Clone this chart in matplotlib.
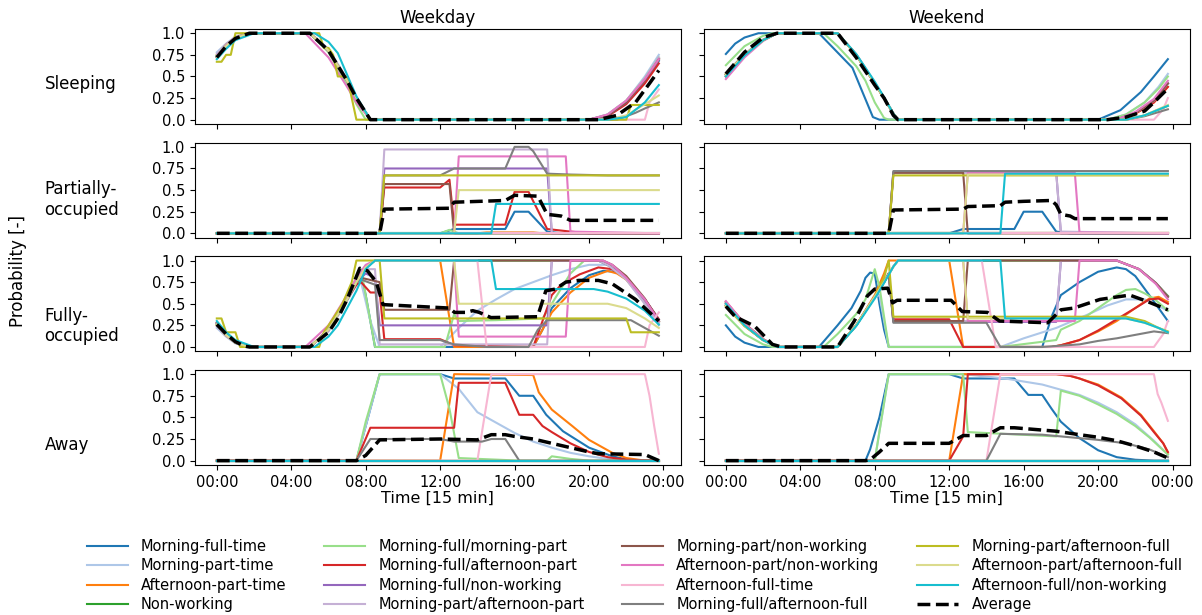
"""Occupancy state probabilities per household type, weekday vs weekend."""

import matplotlib.pyplot as plt
import numpy as np

# household types (legend order) and their colours
labels = [
    "Morning-full-time", "Morning-part-time", "Afternoon-part-time", "Non-working",
    "Morning-full/morning-part", "Morning-full/afternoon-part",
    "Morning-full/non-working", "Morning-part/afternoon-part",
    "Morning-part/non-working", "Afternoon-part/non-working",
    "Afternoon-full-time", "Morning-full/afternoon-full",
    "Morning-part/afternoon-full", "Afternoon-part/afternoon-full",
    "Afternoon-full/non-working",
]
keys = ["mft", "mpt", "apt", "nw", "mf_mp", "mf_ap", "mf_nw", "mp_ap",
        "mp_nw", "ap_nw", "aft", "mf_af", "mp_af", "ap_af", "af_nw"]
colors = ["#1f77b4", "#aec7e8", "#ff7f0e", "#2ca02c", "#98df8a", "#d62728",
          "#9467bd", "#c5b0d5", "#8c564b", "#e377c2", "#f7b6d2", "#7f7f7f",
          "#bcbd22", "#dbdb8d", "#17becf"]

states = ["Sleeping", "Partially-\noccupied", "Fully-\noccupied", "Away"]
days = ["Weekday", "Weekend"]
time_ticks = [0, 16, 32, 48, 64, 80, 96]
time_labels = ["00:00", "04:00", "08:00", "12:00", "16:00", "20:00", "00:00"]
prob_ticks = [0, 0.25, 0.5, 0.75, 1.0]
prob_labels = ["0.0", "0.25", "0.5", "0.75", "1.0"]

# curves as (hour, probability) knots
ZERO = [(0, 0), (23.75, 0)]

wd_sleep = {
    "mft": [(0, .73), (.5, .86), (1, .95), (1.75, 1), (5, 1), (6, .8), (7, .45), (7.5, .25), (8.25, 0), (20, 0), (21, .05), (22, .2), (23, .45), (23.75, .68)],
    "mpt": [(0, .78), (.5, .88), (1, .96), (1.75, 1), (5, 1), (6, .82), (7, .47), (7.5, .26), (8.25, 0), (20, 0), (21, .06), (22, .22), (23, .5), (23.75, .75)],
    "apt": [(0, .75), (.5, .87), (1, .95), (1.75, 1), (5, 1), (6, .8), (7, .45), (7.5, .24), (8.25, 0), (20, 0), (21, .05), (22, .21), (23, .47), (23.75, .7)],
    "nw": [(0, .74), (.5, .86), (1, .95), (1.75, 1), (5, 1), (6, .79), (7, .44), (7.5, .24), (8.25, 0), (20, 0), (21, .05), (22, .2), (23, .46), (23.75, .7)],
    "mf_mp": [(0, .74), (.5, .86), (1, .95), (1.75, 1), (5, 1), (6, .78), (7, .4), (7.5, .18), (8, 0), (20, 0), (21, .06), (22, .22), (23, .48), (23.75, .72)],
    "mf_ap": [(0, .72), (.5, .85), (1, .94), (1.75, 1), (5, 1), (6, .8), (7, .45), (7.5, .25), (8.25, 0), (20, 0), (21, .04), (22, .18), (23, .42), (23.75, .65)],
    "mf_nw": [(0, .73), (.5, .86), (1, .95), (1.75, 1), (5, 1), (6, .8), (7, .45), (7.5, .25), (8.25, 0), (20, 0), (21, .05), (22, .2), (23, .46), (23.75, .7)],
    "mp_ap": [(0, .76), (.5, .87), (1, .96), (1.75, 1), (5, 1), (6, .81), (7, .46), (7.5, .25), (8.25, 0), (20, 0), (21, .06), (22, .22), (23, .48), (23.75, .72)],
    "mp_nw": [(0, .73), (.5, .86), (1, .95), (1.75, 1), (5, 1), (6, .8), (7, .45), (7.5, .25), (8.25, 0), (20, 0), (21, .05), (22, .2), (23, .46), (23.75, .7)],
    "ap_nw": [(0, .72), (.5, .85), (1, .94), (1.75, 1), (4.75, 1), (6, .72), (7, .38), (7.5, .2), (8.25, 0), (20, 0), (21, .06), (22, .22), (23, .47), (23.75, .7)],
    "aft": [(0, .73), (.5, .86), (1, .95), (1.75, 1), (5, 1), (6, .8), (7, .45), (7.5, .25), (8.25, 0), (23, 0), (23.25, .2), (23.75, .35)],
    "mf_af": [(0, .72), (.5, .85), (1, .94), (1.75, 1), (5, 1), (6, .8), (7, .45), (7.5, .25), (8.25, 0), (21.5, 0), (22.5, .08), (23, .13), (23.75, .2)],
    "mp_af": [(0, .67), (.25, .67), (.5, .75), (.75, .75), (1, 1), (5.5, 1), (5.75, .83), (6, .83), (6.25, .75), (6.5, .5), (7, .5), (7.25, .25), (7.5, 0), (22, 0), (22.25, .17), (23.75, .17)],
    "ap_af": [(0, .72), (.5, .85), (1, .94), (1.75, 1), (5, 1), (6, .8), (7, .45), (7.5, .25), (8.25, 0), (21, 0), (22, .05), (23, .18), (23.75, .28)],
    "af_nw": [(0, .7), (.5, .82), (1, .92), (2, 1), (5.25, 1), (6, .9), (6.5, .77), (7, .52), (7.5, .27), (8.25, 0), (21, 0), (22, .03), (23, .2), (23.75, .4)],
    "avg": [(0, .72), (.5, .85), (1, .94), (1.75, 1), (5, 1), (6, .8), (7, .45), (7.5, .25), (8.25, 0), (20.5, 0), (21.5, .05), (22.5, .2), (23.25, .42), (23.75, .57)],
}

wd_part = {
    "mft": [(0, 0), (12, 0), (12.75, .05), (15.5, .05), (16, .25), (16.75, .25), (17.75, .02), (18.5, 0), (23.75, 0)],
    "mpt": ZERO,
    "apt": [(0, 0), (14, 0), (14.5, .01), (17, .01), (17.5, 0), (23.75, 0)],
    "nw": ZERO,
    "mf_mp": [(0, 0), (12, 0), (12.5, .04), (13, 0), (23.75, 0)],
    "mf_ap": [(0, 0), (8.75, 0), (9, .53), (12, .53), (12.5, .62), (12.75, .1), (15.5, .1), (16, .48), (16.75, .48), (17.75, .05), (19, .02), (20, 0), (23.75, 0)],
    "mf_nw": [(0, 0), (8.75, 0), (9, .75), (17.75, .75), (18, 0), (23.75, 0)],
    "mp_ap": [(0, 0), (8.75, 0), (9, .97), (17.75, .97), (18, 0), (23.75, 0)],
    "mp_nw": [(0, 0), (8.75, 0), (9, .57), (12.5, .57), (12.75, 0), (23.75, 0)],
    "ap_nw": [(0, 0), (12.75, 0), (13, .89), (18.75, .89), (19, .02), (23.75, 0)],
    "aft": ZERO,
    "mf_af": [(0, 0), (8.75, 0), (9, .67), (12, .67), (12.75, .75), (15.5, .75), (16, 1), (16.75, 1), (17, .95), (17.75, .69), (19, .68), (21, .67), (23.75, .67)],
    "mp_af": [(0, 0), (8.75, 0), (9, .67), (23.75, .67)],
    "ap_af": [(0, 0), (12.75, 0), (13, .5), (23.75, .5)],
    "af_nw": [(0, 0), (14.75, 0), (15, .34), (23.75, .34)],
    "avg": [(0, 0), (8.75, 0), (9, .28), (12.5, .29), (12.75, .36), (15.5, .38), (16, .44), (17.25, .43), (17.75, .22), (18.5, .2), (19, .15), (23.75, .15)],
}

wd_full = {
    "mft": [(0, .27), (.5, .14), (1, .05), (1.75, 0), (5, 0), (6, .2), (7, .55), (7.5, .75), (7.75, .82), (8, .6), (8.5, 0), (17, 0), (17.5, .2), (18, .45), (19, .68), (20, .83), (20.75, .88), (21.5, .87), (22, .8), (23, .55), (23.75, .32)],
    "mpt": [(0, .22), (.5, .12), (1, .04), (1.75, 0), (5, 0), (6, .18), (7, .53), (7.5, .72), (7.75, .75), (8.25, .3), (8.75, 0), (12, 0), (13, .22), (14, .42), (15, .55), (16, .67), (17, .75), (18, .83), (19, .9), (20, .95), (21, .95), (22, .78), (23, .5), (23.75, .25)],
    "apt": [(0, .25), (.5, .13), (1, .05), (1.75, 0), (5, 0), (6, .2), (7, .55), (7.5, .75), (8, .92), (8.5, 1), (12, 1), (12.75, 0), (17, 0), (17.5, .2), (18, .4), (19, .63), (20, .8), (21, .88), (21.5, .85), (22, .78), (23, .53), (23.75, .3)],
    "nw": [(0, .26), (.5, .14), (1, .05), (1.75, 0), (5, 0), (6, .2), (7, .56), (7.5, .76), (8, .92), (8.5, 1), (20.5, 1), (21, .95), (22, .8), (23, .54), (23.75, .3)],
    "mf_mp": [(0, .26), (.5, .14), (1, .05), (1.75, 0), (5, 0), (6, .2), (7, .58), (7.5, .8), (7.75, .9), (8, .6), (8.5, 0), (12.25, 0), (12.75, .38), (13, .3), (15, .31), (17.5, .33), (18, .5), (19, .85), (19.75, 1), (20.5, 1), (21, .95), (22, .79), (23, .53), (23.75, .28)],
    "mf_ap": [(0, .28), (.5, .15), (1, .06), (1.75, 0), (5, 0), (6, .2), (7, .55), (7.5, .72), (7.75, .75), (8.25, .63), (8.75, .63), (9, .09), (12, .09), (12.75, .02), (17, 0), (17.5, .3), (18, .6), (18.5, .72), (19.5, .84), (20.5, .92), (21.25, .9), (22, .8), (23, .55), (23.75, .32)],
    "mf_nw": [(0, .27), (.5, .14), (1, .05), (1.75, 0), (5, 0), (6, .2), (7, .55), (7.5, .75), (8, .85), (8.5, .8), (8.75, .25), (17.75, .25), (18, 1), (20.5, 1), (21, .95), (22, .8), (23, .54), (23.75, .3)],
    "mp_ap": [(0, .24), (.5, .13), (1, .05), (1.75, 0), (5, 0), (6, .18), (7, .55), (7.5, .75), (8, .9), (8.5, .9), (8.75, .03), (17.75, .03), (18, 1), (20.5, 1), (21, .95), (22, .78), (23, .5), (23.75, .28)],
    "mp_nw": [(0, .27), (.5, .14), (1, .05), (1.75, 0), (5, 0), (6, .2), (7, .55), (7.5, .75), (7.75, .8), (8.75, .75), (9, .43), (12.5, .43), (12.75, 1), (20.75, 1), (21.25, .95), (22, .82), (23, .56), (23.75, .3)],
    "ap_nw": [(0, .28), (.5, .15), (1, .06), (1.75, 0), (4.75, 0), (6, .25), (7, .6), (7.5, .8), (8, .95), (8.5, 1), (12.75, 1), (13, .12), (18.75, .12), (19, 1), (20.75, 1), (21.25, .95), (22, .8), (23, .55), (23.75, .3)],
    "aft": [(0, .27), (.5, .14), (1, .05), (1.75, 0), (5, 0), (6, .2), (7, .55), (7.5, .75), (8, .92), (8.5, 1), (14, 1), (14.5, 0), (23, 0), (23.25, .25), (23.75, .4)],
    "mf_af": [(0, .28), (.5, .15), (1, .06), (1.75, 0), (5, 0), (6, .2), (7, .55), (7.5, .75), (7.75, .78), (8.5, .72), (8.75, .08), (12, .08), (12.75, .03), (14.5, 0), (16.75, 0), (17.25, .2), (17.75, .31), (22.25, .31), (23, .22), (23.75, .13)],
    "mp_af": [(0, .33), (.25, .33), (.5, .17), (1, .17), (1.25, 0), (5.5, 0), (5.75, .17), (6.25, .33), (6.75, .5), (7.25, .75), (7.5, 1), (8.75, 1), (9, .33), (22, .33), (22.25, .17), (23.75, .17)],
    "ap_af": [(0, .26), (.5, .14), (1, .05), (1.75, 0), (5, 0), (6, .2), (7, .55), (7.5, .75), (8, .92), (8.5, 1), (12.75, 1), (13, .5), (21, .5), (22, .45), (23, .33), (23.75, .22)],
    "af_nw": [(0, .3), (.5, .17), (1, .08), (2, 0), (5.25, 0), (6, .12), (6.5, .25), (7, .45), (7.5, .65), (8, .9), (8.5, 1), (14.75, 1), (15, .67), (20.25, .67), (21, .64), (22, .56), (23, .42), (23.75, .26)],
    "avg": [(0, .26), (.5, .15), (1, .06), (1.5, .01), (1.75, 0), (5, 0), (6, .17), (6.5, .33), (7, .55), (7.68, .91), (8.1, .88), (8.57, .75), (8.93, .49), (12.5, .45), (12.77, .4), (13.4, .4), (13.75, .42), (14.1, .4), (14.73, .34), (17.23, .35), (17.68, .65), (18.2, .67), (18.75, .75), (19.46, .77), (20.5, .77), (21.25, .73), (22.5, .55), (23.75, .3)],
}

wd_away = {
    "mft": [(0, 0), (7.5, 0), (8, .4), (8.75, 1), (12, 1), (12.75, .95), (15.5, .95), (16.25, .75), (17, .75), (17.7, .53), (18.6, .34), (20, .15), (21.25, .05), (22.1, .01), (23, 0), (23.75, 0)],
    "mpt": [(0, 0), (7.5, 0), (8, .4), (8.75, 1), (12, 1), (13, .83), (14, .56), (15, .44), (16, .32), (17, .22), (18, .15), (19, .09), (20, .05), (21, .02), (22, 0), (23.75, 0)],
    "apt": [(0, 0), (12, 0), (12.75, 1), (17, .99), (17.3, .79), (18, .59), (19.1, .4), (20, .24), (21.25, .09), (22, .03), (23, 0), (23.75, 0)],
    "nw": ZERO,
    "mf_mp": [(0, 0), (7.5, 0), (8, .45), (8.75, 1), (12, 1), (12.5, .6), (13, .03), (16.25, 0), (17.75, 0), (18, .05), (19, .02), (20, 0), (23.75, 0)],
    "mf_ap": [(0, 0), (7.5, 0), (8.25, .38), (12.75, .38), (13, .9), (15.5, .9), (16.25, .53), (17, .53), (17.5, .4), (18, .33), (19, .2), (20, .1), (21, .04), (22, .01), (23.75, 0)],
    "mf_nw": ZERO,
    "mp_ap": ZERO,
    "mp_nw": ZERO,
    "ap_nw": ZERO,
    "aft": [(0, 0), (14, 0), (14.75, 1), (23, 1), (23.25, .75), (23.5, .4), (23.75, .08)],
    "mf_af": [(0, 0), (7.5, 0), (8.25, .25), (12, .25), (12.75, .22), (14.25, .22), (14.75, .25), (15.5, .25), (16.25, 0), (23.75, 0)],
    "mp_af": ZERO,
    "ap_af": ZERO,
    "af_nw": ZERO,
    "avg": [(0, 0), (7.5, 0), (8, .06), (8.75, .24), (12, .25), (14, .24), (14.75, .3), (15.5, .3), (16, .28), (17, .25), (18, .2), (19, .15), (20, .1), (20.5, .08), (23, .07), (23.75, 0)],
}

we_sleep = {
    "mft": [(0, .76), (.5, .88), (1, .95), (1.75, 1), (5, 1), (5.9, .8), (6.8, .6), (7.3, .34), (7.9, .03), (8.25, 0), (20, 0), (21.2, .11), (22.3, .32), (23, .5), (23.75, .7)],
    "mpt": [(0, .52), (1, .75), (2, .92), (2.75, 1), (6, 1), (7, .75), (8, .42), (8.5, .25), (9, .07), (9.25, 0), (20.5, 0), (21.5, .06), (22.5, .2), (23.25, .38), (23.75, .53)],
    "apt": [(0, .5), (1, .74), (2, .92), (2.75, 1), (6, 1), (7, .75), (8, .42), (8.5, .25), (9, .07), (9.25, 0), (21, 0), (22, .07), (23, .2), (23.75, .38)],
    "nw": [(0, .52), (1, .75), (2, .92), (2.75, 1), (6, 1), (7, .75), (8, .42), (8.5, .25), (9, .07), (9.25, 0), (21, 0), (22, .08), (23, .22), (23.75, .42)],
    "mf_mp": [(0, .63), (1, .85), (2, .97), (2.5, 1), (5.25, 1), (6, .85), (7, .62), (7.5, .45), (8, .2), (8.5, .02), (8.75, 0), (20.5, 0), (21.5, .06), (22.5, .2), (23.25, .36), (23.75, .5)],
    "mf_ap": [(0, .5), (1, .74), (2, .92), (2.75, 1), (6, 1), (7, .75), (8, .42), (8.5, .25), (9, .07), (9.25, 0), (21, 0), (22, .07), (23, .2), (23.75, .38)],
    "mf_nw": [(0, .52), (1, .75), (2, .92), (2.75, 1), (6, 1), (7, .75), (8, .42), (8.5, .25), (9, .07), (9.25, 0), (21, 0), (22, .08), (23, .22), (23.75, .42)],
    "mp_ap": [(0, .54), (1, .76), (2, .93), (2.75, 1), (6, 1), (7, .76), (8, .43), (8.5, .25), (9, .07), (9.25, 0), (21, 0), (22, .08), (23, .22), (23.75, .42)],
    "mp_nw": [(0, .52), (1, .75), (2, .92), (2.75, 1), (6, 1), (7, .75), (8, .42), (8.5, .25), (9, .07), (9.25, 0), (21, 0), (22, .08), (23, .22), (23.75, .42)],
    "ap_nw": [(0, .47), (1, .72), (2, .91), (2.75, 1), (6, 1), (7, .75), (8, .42), (8.5, .25), (9, .07), (9.25, 0), (21, 0), (22, .09), (23, .24), (23.75, .45)],
    "aft": [(0, .5), (1, .74), (2, .92), (2.75, 1), (6, 1), (7, .75), (8, .42), (8.5, .25), (9, .07), (9.25, 0), (23, 0), (23.5, .12), (23.75, .25)],
    "mf_af": [(0, .52), (1, .75), (2, .92), (2.75, 1), (6, 1), (7, .75), (8, .42), (8.5, .25), (9, .07), (9.25, 0), (21.5, 0), (22.5, .04), (23.75, .12)],
    "mp_af": [(0, .53), (1, .75), (2, .92), (2.75, 1), (6, 1), (7, .75), (8, .42), (8.5, .25), (9, .07), (9.25, 0), (21.5, 0), (22.5, .05), (23.75, .16)],
    "ap_af": [(0, .52), (1, .75), (2, .92), (2.75, 1), (6, 1), (7, .75), (8, .42), (8.5, .25), (9, .07), (9.25, 0), (21.5, 0), (22.5, .05), (23.75, .17)],
    "af_nw": [(0, .5), (1, .74), (2, .92), (2.75, 1), (6, 1), (7, .76), (8, .44), (8.5, .26), (9, .07), (9.25, 0), (21.5, 0), (22.5, .05), (23.75, .16)],
    "avg": [(0, .53), (1, .78), (2, .95), (2.75, 1), (6, 1), (7, .72), (8, .4), (8.5, .25), (9, .05), (9.25, 0), (20.5, 0), (21.5, .03), (22.5, .1), (23, .2), (23.75, .36)],
}

we_part = {
    "mft": [(0, 0), (12, 0), (12.75, .05), (15.5, .05), (16, .25), (17, .25), (17.75, .02), (18.5, 0), (23.75, 0)],
    "mpt": ZERO,
    "apt": ZERO,
    "nw": ZERO,
    "mf_mp": ZERO,
    "mf_ap": ZERO,
    "mf_nw": [(0, 0), (8.75, 0), (9, .71), (17.75, .71), (18, 0), (23.75, 0)],
    "mp_ap": [(0, 0), (8.75, 0), (9, .7), (17.75, .7), (18, .02), (23.75, 0)],
    "mp_nw": [(0, 0), (8.75, 0), (9, .7), (12.75, .7), (13, 0), (23.75, 0)],
    "ap_nw": [(0, 0), (12.75, 0), (13, .7), (18.75, .7), (19, .01), (23.75, 0)],
    "aft": ZERO,
    "mf_af": [(0, 0), (8.75, 0), (9, .72), (23.75, .72)],
    "mp_af": [(0, 0), (8.75, 0), (9, .67), (23.75, .67)],
    "ap_af": [(0, 0), (12.75, 0), (13, .68), (23.75, .68)],
    "af_nw": [(0, 0), (14.75, 0), (15, .69), (23.75, .69)],
    "avg": [(0, 0), (8.75, 0), (9, .27), (12.75, .28), (13, .31), (14.75, .32), (15, .36), (16, .37), (17.5, .38), (17.75, .33), (18, .22), (18.5, .2), (18.75, .17), (23.75, .17)],
}

we_full = {
    "mft": [(0, .25), (.5, .12), (1, .05), (1.75, 0), (5, 0), (6, .25), (6.75, .45), (7.25, .65), (7.5, .8), (7.75, .86), (8, .85), (8.25, .5), (8.5, .2), (8.75, 0), (17, 0), (17.5, .35), (18, .6), (19, .75), (20, .87), (21, .92), (21.5, .9), (22, .82), (22.75, .6), (23.25, .45), (23.75, .3)],
    "mpt": [(0, .48), (1, .25), (2, .08), (2.75, 0), (6, 0), (7, .25), (8, .58), (8.25, .6), (8.75, 0), (14.75, 0), (16, .1), (17.75, .22), (19.5, .38), (20.5, .48), (21.5, .55), (22.5, .55), (23.75, .42)],
    "apt": [(0, .5), (1, .25), (2, .08), (2.75, 0), (6, 0), (7, .25), (8, .6), (8.5, .85), (8.75, 1), (12, 1), (12.75, 0), (17.5, 0), (18, .02), (19, .08), (20, .18), (21, .3), (22, .45), (22.75, .56), (23.25, .58), (23.75, .52)],
    "nw": [(0, .48), (1, .25), (2, .08), (2.75, 0), (6, 0), (7, .25), (8, .58), (8.5, .75), (9, .93), (9.25, 1), (21, 1), (22.2, .9), (23.1, .74), (23.75, .59)],
    "mf_mp": [(0, .37), (1, .15), (2, .03), (2.5, 0), (5.25, 0), (6, .15), (7, .38), (7.5, .55), (8, .9), (8.25, .7), (8.75, 0), (14.75, 0), (17.75, .08), (18, .2), (19, .3), (20, .45), (21, .6), (21.5, .66), (22, .67), (22.5, .62), (23, .56), (23.75, .42)],
    "mf_ap": [(0, .52), (1, .27), (2, .09), (2.75, 0), (6, 0), (7, .25), (8, .58), (8.5, .75), (8.75, .85), (9, .32), (12, .32), (12.75, 0), (17.5, 0), (18, .02), (19, .08), (20, .19), (21, .32), (22, .45), (22.75, .55), (23.25, .56), (23.75, .5)],
    "mf_nw": [(0, .5), (1, .26), (2, .08), (2.75, 0), (6, 0), (7, .25), (8, .58), (8.5, .75), (8.75, .85), (9, .29), (17.75, .29), (18, 1), (21, 1), (22.2, .9), (23.1, .74), (23.75, .58)],
    "mp_ap": [(0, .49), (1, .25), (2, .08), (2.75, 0), (6, 0), (7, .25), (8, .58), (8.5, .75), (8.75, .85), (9, .3), (17.75, .3), (18, 1), (21, 1), (22.2, .9), (23.1, .74), (23.75, .58)],
    "mp_nw": [(0, .52), (1, .27), (2, .09), (2.75, 0), (6, 0), (7, .25), (8, .58), (8.5, .75), (8.75, .85), (9, .3), (12.75, .3), (13, 1), (21, 1), (22.2, .9), (23.1, .74), (23.75, .58)],
    "ap_nw": [(0, .53), (1, .27), (2, .09), (2.75, 0), (6, 0), (7, .25), (8, .58), (8.5, .75), (9, .93), (9.25, 1), (12.75, 1), (13, .3), (18.75, .3), (19, 1), (21, 1), (22.2, .9), (23.1, .73), (23.75, .55)],
    "aft": [(0, .5), (1, .25), (2, .08), (2.75, 0), (6, 0), (7, .25), (8, .58), (8.5, .75), (9, .93), (9.25, 1), (13.75, 1), (14.5, 0), (23, 0), (23.5, .15), (23.75, .3)],
    "mf_af": [(0, .48), (1, .25), (2, .08), (2.75, 0), (6, 0), (7, .25), (8, .58), (8.5, .75), (8.75, .85), (9, .28), (14, .28), (14.75, 0), (17, 0), (19, .03), (20, .07), (21, .1), (22, .14), (23, .18), (23.75, .16)],
    "mp_af": [(0, .47), (1, .24), (2, .08), (2.75, 0), (6, 0), (7, .25), (8, .58), (8.5, .8), (8.75, 1), (9, .35), (21.5, .35), (22.5, .3), (23.25, .22), (23.75, .18)],
    "ap_af": [(0, .48), (1, .25), (2, .08), (2.75, 0), (6, 0), (7, .25), (8, .58), (8.5, .75), (9, .93), (9.25, 1), (12.75, 1), (13, .33), (21.5, .33), (22.5, .28), (23.25, .22), (23.75, .17)],
    "af_nw": [(0, .5), (1, .25), (2, .08), (2.75, 0), (6, 0), (7, .24), (8, .56), (8.5, .74), (9, .93), (9.25, 1), (14.75, 1), (15, .33), (21.5, .33), (22.5, .28), (23.25, .22), (23.75, .17)],
    "avg": [(0, .47), (.5, .35), (1.55, .24), (2.5, .03), (3, 0), (6, 0), (6.9, .3), (7.6, .59), (8, .67), (8.7, .68), (8.96, .51), (9.2, .54), (12.1, .54), (12.7, .41), (14.05, .4), (14.7, .3), (17.3, .28), (18, .43), (18.7, .45), (20.1, .55), (21.7, .6), (22.6, .53), (23.75, .43)],
}

we_away = {
    "mft": [(0, 0), (7.5, 0), (7.75, .13), (8.25, .5), (8.75, 1), (12, 1), (12.75, .95), (15.5, .95), (16.25, .76), (17, .76), (17.5, .6), (18, .45), (19, .26), (20, .12), (21, .04), (22, .01), (23, 0), (23.75, 0)],
    "mpt": [(0, 0), (8, 0), (8.75, 1), (12.75, 1), (15, .95), (17, .88), (18, .82), (19, .76), (20, .67), (21, .56), (22, .42), (23, .23), (23.75, .07)],
    "apt": [(0, 0), (12, 0), (12.75, 1), (17.75, 1), (18.5, .98), (19, .95), (20, .88), (21.25, .73), (22.3, .53), (23, .34), (23.5, .2), (23.75, .09)],
    "nw": ZERO,
    "mf_mp": [(0, 0), (8, 0), (8.75, 1), (12.75, 1), (13, .33), (17.75, .28), (18, .81), (19, .75), (20, .65), (21, .54), (22, .4), (22.75, .27), (23.75, .07)],
    "mf_ap": [(0, 0), (12, 0), (12.75, .28), (13, 1), (17.75, 1), (18.5, .98), (19, .95), (20, .87), (21.25, .72), (22.3, .52), (23, .33), (23.5, .2), (23.75, .1)],
    "mf_nw": ZERO,
    "mp_ap": ZERO,
    "mp_nw": ZERO,
    "ap_nw": ZERO,
    "aft": [(0, 0), (14, 0), (14.75, 1), (23, 1), (23.2, .77), (23.4, .67), (23.75, .46)],
    "mf_af": [(0, 0), (14, 0), (14.75, .31), (17, .3), (18, .28), (20, .24), (21.5, .2), (22.75, .13), (23.75, .04)],
    "mp_af": ZERO,
    "ap_af": ZERO,
    "af_nw": ZERO,
    "avg": [(0, 0), (7.5, 0), (7.75, .01), (8.25, .1), (8.75, .2), (12, .2), (12.75, .29), (14, .29), (14.75, .38), (15.5, .38), (17.75, .34), (19, .3), (20, .27), (21, .23), (22, .17), (23, .1), (23.75, .03)],
}

panels = [[wd_sleep, we_sleep], [wd_part, we_part],
          [wd_full, we_full], [wd_away, we_away]]

fig, axes = plt.subplots(4, 2, figsize=(12.02, 6.15), sharex=True, sharey=True)
fig.subplots_adjust(left=0.162, right=0.99, top=0.953, bottom=0.244,
                    wspace=0.047, hspace=0.195)

for r in range(4):
    for c in range(2):
        ax = axes[r, c]
        data = panels[r][c]
        for key, lab, col in zip(keys, labels, colors):
            pts = np.array(data[key], dtype=float)
            # hours -> 15 min slot index
            ax.plot(pts[:, 0] * 4, pts[:, 1], color=col, lw=1.5, label=lab)
        pts = np.array(data["avg"], dtype=float)
        ax.plot(pts[:, 0] * 4, pts[:, 1], color="black", ls="--", lw=2.5,
                label="Average")
        ax.set_yticks(prob_ticks)
        ax.set_yticklabels(prob_labels)
        ax.set_xticks(time_ticks)
        ax.set_xticklabels(time_labels)
        ax.tick_params(labelsize=10.5)
        if r == 0:
            ax.set_title(days[c], fontsize=12, pad=4)
        if r == 3:
            ax.set_xlabel("Time [15 min]", fontsize=11.5, labelpad=1)

state_y = [0.863, 0.675, 0.470, 0.276]
for s, y in zip(states, state_y):
    fig.text(0.037, y, s, fontsize=12, ha="left", va="center")
fig.text(0.015, 0.56, "Probability [-]", fontsize=12, rotation=90,
         ha="center", va="center")

handles, labs = axes[0, 0].get_legend_handles_labels()
fig.legend(handles, labs, loc="upper center", bbox_to_anchor=(0.528, 0.145),
           ncol=4, frameon=False, fontsize=10.5, handlelength=2.8,
           handletextpad=0.9, columnspacing=2.6, labelspacing=0.3)

plt.savefig("out.png", dpi=100)
